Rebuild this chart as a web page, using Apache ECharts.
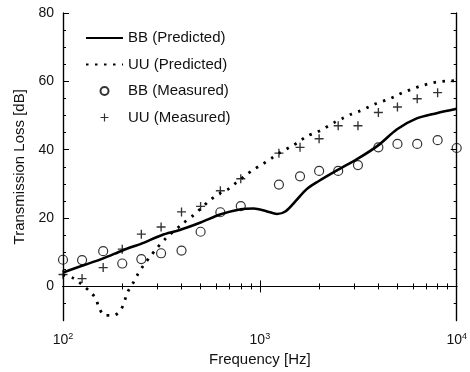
<!DOCTYPE html>
<html>
<head>
<meta charset="utf-8">
<script src="https://cdn.jsdelivr.net/npm/echarts@6/dist/echarts.min.js"></script>
<style>
  html, body { margin: 0; padding: 0; background: #fff; }
  #chart { width: 470px; height: 372px; }
</style>
</head>
<body>
<div id="chart"></div>
<script>
// measured points, 1/3 octave bands
const freqMeasured = [100, 125, 160, 200, 250, 315, 400, 500, 630, 800, 1000, 1250, 1600, 2000, 2500, 3150, 4000, 5000, 6300, 8000, 10000];
const bbMeasured = [7.8, 7.7, 10.3, 6.7, 8, 9.7, 10.5, 16, 21.7, 23.5, null, 29.8, 32.2, 33.8, 33.8, 35.5, 40.7, 41.7, 41.7, 42.8, 40.5];
const uuMeasured = [3.5, 2.3, 5.5, 10.9, 15.3, 17.4, 21.8, 23.4, 28, 31.5, null, 39, 40.7, 43.2, 47, 47, 50.9, 52.5, 54.9, 56.7, null];

// predicted curves
const bbPredFreq = [100, 126, 160, 202, 252, 317, 392, 500, 633, 800, 931, 1080, 1223, 1353, 1522, 1724, 1975, 2487, 3130, 3975, 4976, 6227, 7908, 10000];
const bbPredicted = [4.1, 6.1, 8.2, 10.6, 12.6, 15, 16.5, 18.7, 21.1, 22.6, 22.8, 22, 21.2, 22, 25, 28.4, 30.7, 34.1, 37.3, 41.2, 46, 49.1, 50.7, 52];
const uuPredFreq = [100, 113, 124, 137, 147, 152, 163, 180, 197, 213, 227, 239, 256, 277, 301, 332, 406, 459, 506, 557, 621, 697, 753, 837, 931, 1033, 1147, 1253, 1417, 1579, 1724, 1975, 2132, 2395, 2620, 2913, 3208, 3575, 3929, 4378, 4821, 5310, 5855, 6500, 7224, 7941, 8866, 10000];
const uuPredicted = [3.4, 2.4, 0.7, -1.5, -3.6, -6.1, -8.5, -8.5, -6.8, -1.7, 1, 3.4, 6.1, 8.7, 11.3, 14, 18.4, 20.8, 23, 25.2, 27.1, 28.6, 30.2, 32.3, 34.2, 35.8, 37.5, 39, 40.7, 42.3, 43.9, 45.3, 46.3, 48, 49.1, 50.4, 51.3, 52.5, 53.6, 54.5, 55.5, 56.7, 57.6, 58.6, 59.3, 59.8, 60.1, 60.2];

// ticks
const xMajorTicks = [100, 1000, 10000];
const xMinorTicks = [200, 300, 400, 500, 600, 700, 800, 900, 2000, 3000, 4000, 5000, 6000, 7000, 8000, 9000];
const yMajorTicks = [0, 20, 40, 60, 80];
const yMinorTicks = [-5, 5, 10, 15, 25, 30, 35, 45, 50, 55, 65, 70, 75];

const FONT = 'Liberation Sans, Arial, sans-serif';
const pairs = (xs, ys) => xs.map((x, i) => [x, ys[i]]).filter(p => p[1] !== null);

const plusPath = 'path://M3.4,0h1.2v3.4h3.4v1.2h-3.4v3.4h-1.2v-3.4h-3.4v-1.2h3.4z';

function xAxis(position, ticks, len, withLabels) {
  return {
    type: 'log', logBase: 10, min: 100, max: 10000, position: position,
    axisLine: { show: true, lineStyle: { color: '#000', width: 1.2 } },
    axisTick: { show: true, inside: true, length: len, customValues: ticks, lineStyle: { color: '#000', width: 1 } },
    axisLabel: withLabels ? {
      show: true, customValues: xMajorTicks, margin: 11,
      formatter: v => '{b|10}{s|' + Math.round(Math.log10(v)) + '}',
      rich: {
        b: { fontSize: 14, fontFamily: FONT, color: '#111' },
        s: { fontSize: 9, fontFamily: FONT, color: '#111', padding: [0, 0, 8, 0] }
      }
    } : { show: false },
    splitLine: { show: false },
    name: withLabels ? 'Frequency [Hz]' : '',
    nameLocation: 'middle', nameGap: 28,
    nameTextStyle: { fontSize: 15, fontFamily: FONT, color: '#111' }
  };
}

function yAxis(position, ticks, len, withLabels) {
  return {
    type: 'value', min: -10, max: 80, position: position,
    axisLine: { show: true, lineStyle: { color: '#000', width: 1.2 } },
    axisTick: { show: true, inside: true, length: len, customValues: ticks, lineStyle: { color: '#000', width: 1 } },
    axisLabel: withLabels ? {
      show: true, customValues: yMajorTicks, margin: 9,
      fontSize: 14, fontFamily: FONT, color: '#111'
    } : { show: false },
    splitLine: { show: false },
    name: withLabels ? 'Transmission Loss [dB]' : '',
    nameLocation: 'middle', nameGap: 30,
    nameTextStyle: { fontSize: 15, fontFamily: FONT, color: '#111' }
  };
}

const chart = echarts.init(document.getElementById('chart'));

chart.setOption({
  animation: false,
  backgroundColor: '#fff',
  grid: { left: 63, right: 13, top: 13, bottom: 49 },
  xAxis: [
    xAxis('bottom', xMajorTicks, 6, true),
    xAxis('bottom', xMinorTicks, 3, false),
    xAxis('top', xMajorTicks, 6, false),
    xAxis('top', xMinorTicks, 3, false)
  ],
  yAxis: [
    yAxis('left', yMajorTicks, 6, true),
    yAxis('left', yMinorTicks, 3, false),
    yAxis('right', yMajorTicks, 6, false),
    yAxis('right', yMinorTicks, 3, false)
  ],
  legend: {
    orient: 'vertical', left: 80, top: 25,
    itemWidth: 37, itemHeight: 8, itemGap: 10.5,
    textStyle: { fontSize: 15, lineHeight: 16, fontFamily: FONT, color: '#111' },
    data: [
      { name: 'BB (Predicted)', itemStyle: { opacity: 0 } },
      { name: 'UU (Predicted)', itemStyle: { opacity: 0 } },
      'BB (Measured)',
      'UU (Measured)'
    ]
  },
  series: [
    {
      name: 'BB (Measured)', type: 'scatter',
      data: pairs(freqMeasured, bbMeasured),
      symbol: 'circle', symbolSize: 9,
      itemStyle: { color: 'rgba(255,255,255,0)', borderColor: '#000', borderWidth: 1.2 }
    },
    {
      name: 'UU (Measured)', type: 'scatter',
      data: pairs(freqMeasured, uuMeasured),
      symbol: plusPath, symbolSize: 9,
      itemStyle: { color: '#000' }
    },
    {
      name: 'BB (Predicted)', type: 'line',
      data: pairs(bbPredFreq, bbPredicted),
      showSymbol: false, symbol: 'none', smooth: 0.3,
      lineStyle: { color: '#000', width: 2.6 },
      itemStyle: { color: '#000' }
    },
    {
      name: 'UU (Predicted)', type: 'line',
      data: pairs(uuPredFreq, uuPredicted),
      showSymbol: false, symbol: 'none', smooth: 0.3,
      lineStyle: { color: '#000', width: 2.8, type: [2.5, 6.5] },
      itemStyle: { color: '#000' }
    }
  ]
});
</script>
</body>
</html>
